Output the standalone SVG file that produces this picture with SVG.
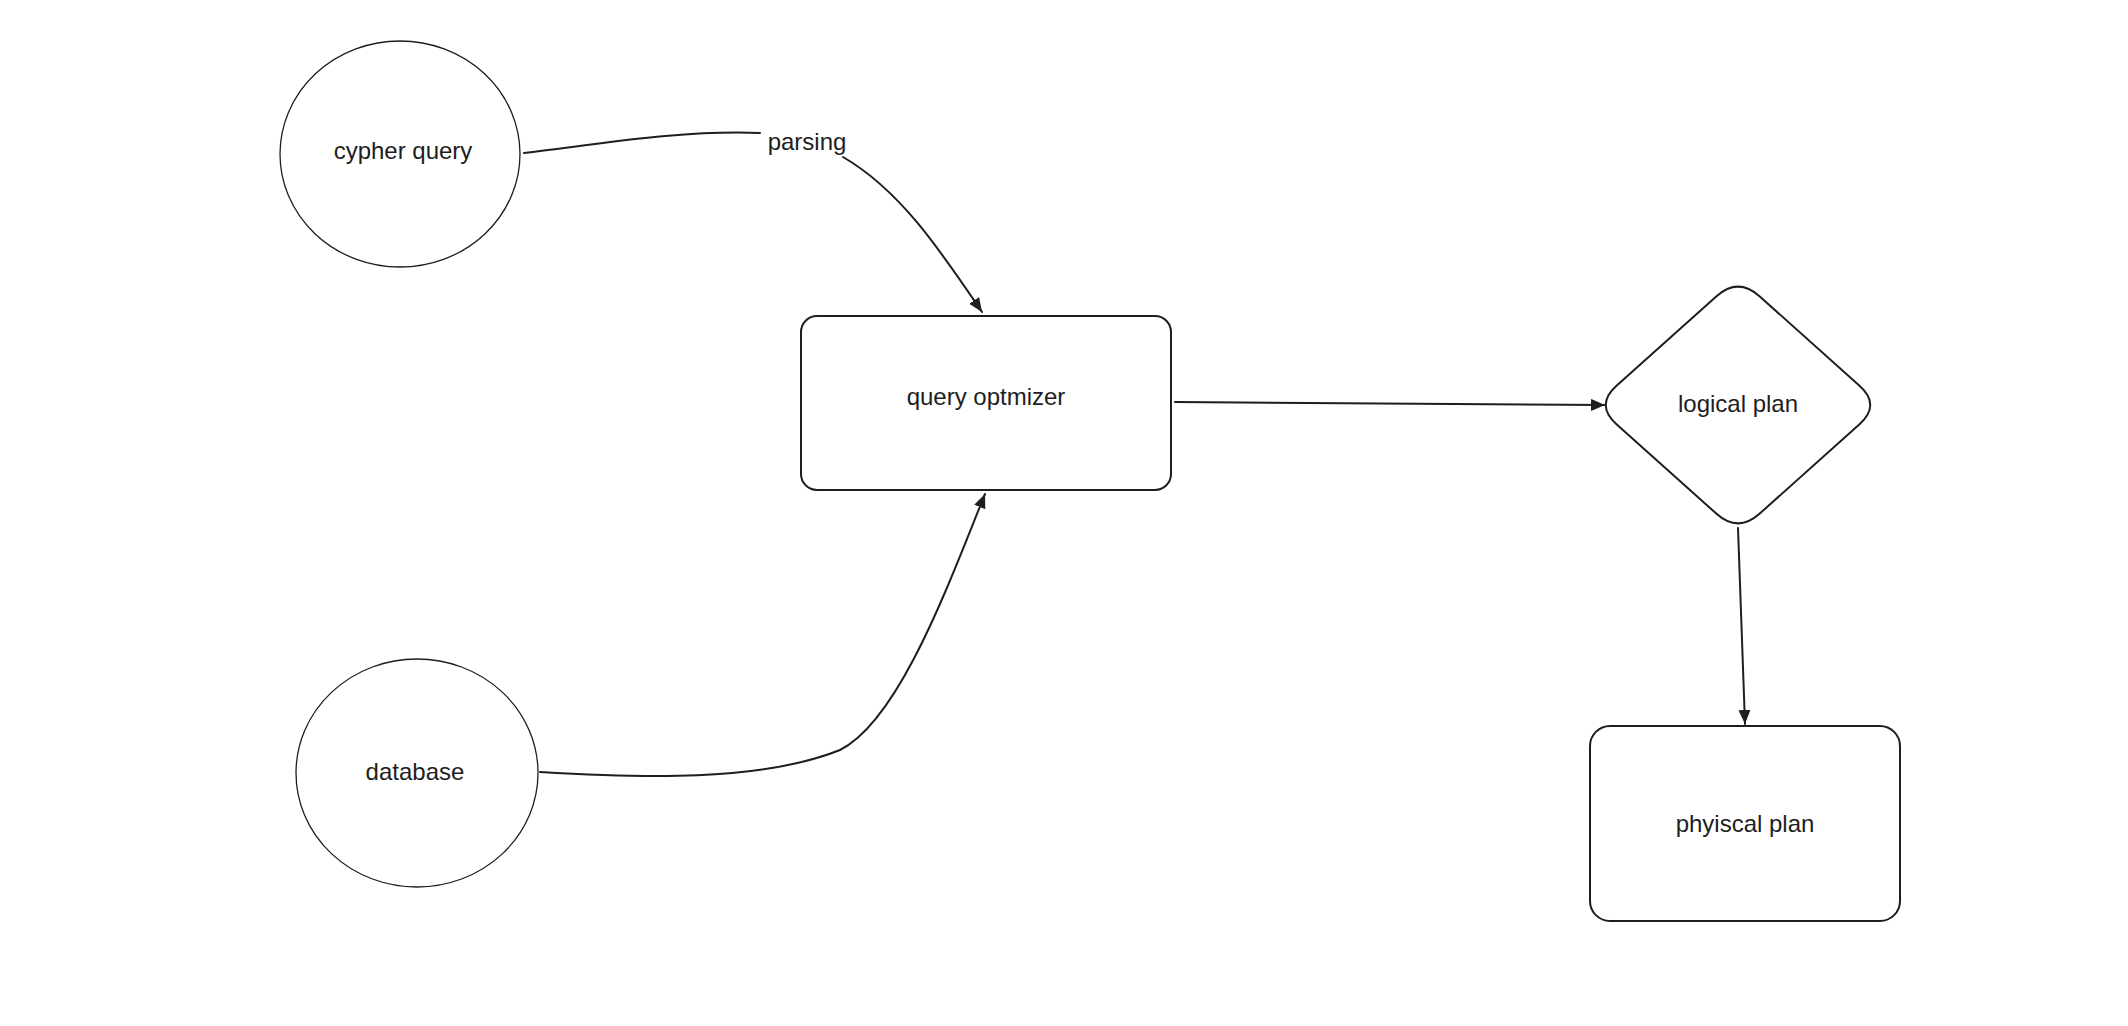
<svg xmlns="http://www.w3.org/2000/svg" width="2128" height="1026" viewBox="0 0 2128 1026">
<style>
.shape{fill:#ffffff;stroke:#1e1e1e;stroke-width:2}
.ell{fill:#ffffff;stroke:#1e1e1e;stroke-width:1.3}
.lbl{font-family:"Liberation Sans",Arial,sans-serif;font-size:24px;fill:#1e1e1e;text-anchor:middle}
.conn{fill:none;stroke:#1e1e1e;stroke-width:2;stroke-linecap:round}
</style>
<defs>
<marker id="ah" markerUnits="userSpaceOnUse" markerWidth="16" markerHeight="14" refX="14" refY="6" orient="auto">
<path d="M0,0 L14,6 L0,12 Z" fill="#1e1e1e"/>
</marker>
</defs>
<rect width="2128" height="1026" fill="#ffffff"/>
<g id="connectors">
<path class="conn" d="M 524 153 C 600 144, 680 130, 760 133"/>
<path class="conn" d="M 843 157 C 900 190, 940 250, 982 312" marker-end="url(#ah)"/>
<path class="conn" d="M 540 772 C 640 778, 760 782, 840 750 C 900 720, 950 580, 985 494" marker-end="url(#ah)"/>
<path class="conn" d="M 1175 402 L 1605 405" marker-end="url(#ah)"/>
<path class="conn" d="M 1738 528 L 1745 724" marker-end="url(#ah)"/>
<text class="lbl" x="807" y="150">parsing</text>
</g>
<g id="cypher-query">
<ellipse class="ell" cx="400" cy="154" rx="120" ry="113"/>
<text class="lbl" x="403" y="159">cypher query</text>
</g>
<g id="database">
<ellipse class="ell" cx="417" cy="773" rx="121" ry="114"/>
<text class="lbl" x="415" y="780">database</text>
</g>
<g id="query-optimizer">
<rect class="shape" x="801" y="316" width="370" height="174" rx="16" ry="16"/>
<text class="lbl" x="986" y="405">query optmizer</text>
</g>
<g id="logical-plan">
<path class="shape" d="M 1759.5 296.2 L 1859.5 385.8 Q 1881 405 1859.5 424.2 L 1759.5 513.8 Q 1738 533 1716.5 513.8 L 1616.5 424.2 Q 1595 405 1616.5 385.8 L 1716.5 296.2 Q 1738 277 1759.5 296.2 Z"/>
<text class="lbl" x="1738" y="412">logical plan</text>
</g>
<g id="physical-plan">
<rect class="shape" x="1590" y="726" width="310" height="195" rx="20" ry="20"/>
<text class="lbl" x="1745" y="832">phyiscal plan</text>
</g>
</svg>
